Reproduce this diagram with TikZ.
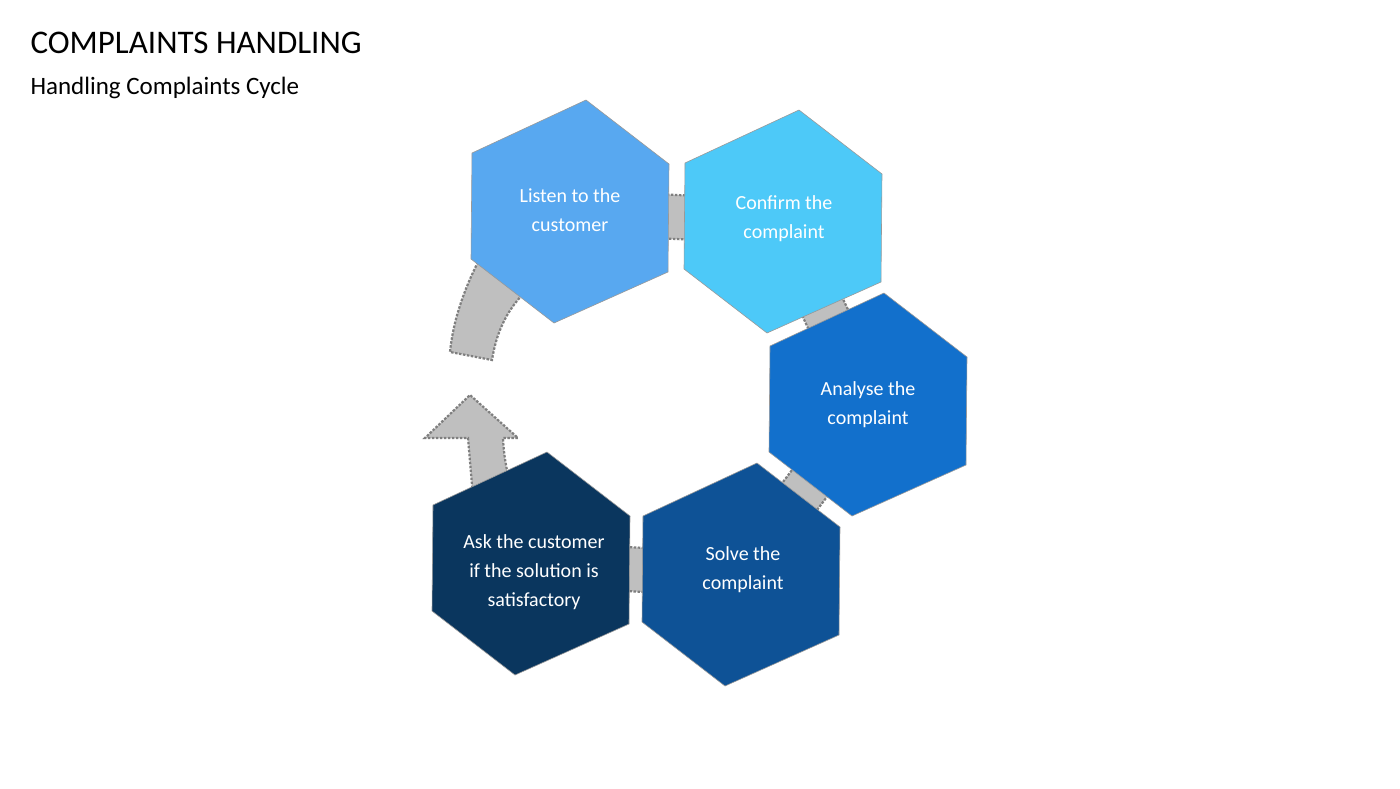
\documentclass[tikz,border=0pt]{standalone}
\usepackage{fontspec}
\setmainfont{Carlito}
\usetikzlibrary{calc}
\definecolor{cA}{HTML}{58A8F0}
\definecolor{cB}{HTML}{4DC9F8}
\definecolor{cC}{HTML}{1270CC}
\definecolor{cD}{HTML}{0E5296}
\definecolor{cE}{HTML}{0A365E}
\definecolor{lnk}{HTML}{BFBFBF}
\definecolor{lnkb}{HTML}{7F7F7F}
\tikzset{
  band/.style={fill=lnk,draw=lnkb,line width=2.2pt,dash pattern=on 2.5pt off 1.5pt},
  hexlabel/.style={text=white,align=center,font=\fontsize{20}{29}\selectfont},
}
\newcommand{\hexat}[3]{%
  \fill[#3,draw=black!40,line width=0.6pt] ($(#1)+(16,-112)$) -- ($(#1)+(99,-48)$) -- ($(#1)+(98,60)$) -- ($(#1)+(-16,111)$) -- ($(#1)+(-99,47)$) -- ($(#1)+(-98,-59)$) -- cycle;
  \node[hexlabel] (#2) at (#1) {};}
\newcommand{\link}[2]{%
  \draw[band] ($(#1)!22pt!90:(#2)$) -- ($(#2)!22pt!-90:(#1)$) -- ($(#2)!22pt!90:(#1)$) -- ($(#1)!22pt!-90:(#2)$) -- cycle;}
\begin{document}
\begin{tikzpicture}[x=1pt,y=-1pt]
\useasboundingbox (0,0) rectangle (1400,788);
\fill[white] (0,0) rectangle (1400,788);
\node[anchor=west,font=\fontsize{33}{36}\selectfont] (title) at (27,43) {COMPLAINTS HANDLING};
\node[anchor=west,font=\fontsize{25}{28}\selectfont] (sub) at (27,88) {Handling Complaints Cycle};
\coordinate (pA) at (570,212);
\coordinate (pB) at (783,222);
\coordinate (pC) at (868,405);
\coordinate (pD) at (741,575);
\coordinate (pE) at (531,564);
\link{pA}{pB}
\link{pB}{pC}
\link{pC}{pD}
\link{pD}{pE}
% tail of return arrow
\draw[band] (545,250) -- (478,262) .. controls (463,292) and (453,322) .. (450,352) -- (492,360) .. controls (496,335) and (505,312) .. (525,292) -- cycle;
% head of return arrow
\draw[band] (475,520) -- (468,438) -- (425,438) -- (470,395) -- (518,438) -- (503,438) .. controls (504,460) and (508,480) .. (520,520) -- cycle;
\hexat{pA}{hA}{cA}
\hexat{pB}{hB}{cB}
\hexat{pC}{hC}{cC}
\hexat{pD}{hD}{cD}
\hexat{pE}{hE}{cE}
\node[hexlabel] at (570,210) {Listen to the\\customer};
\node[hexlabel] at (784,219) {Confirm the\\complaint};
\node[hexlabel] at (868,405) {Analyse the\\complaint};
\node[hexlabel] at (743,570) {Solve the\\complaint};
\node[hexlabel] at (534,572) {Ask the customer\\if the solution is\\satisfactory};
\end{tikzpicture}
\end{document}
